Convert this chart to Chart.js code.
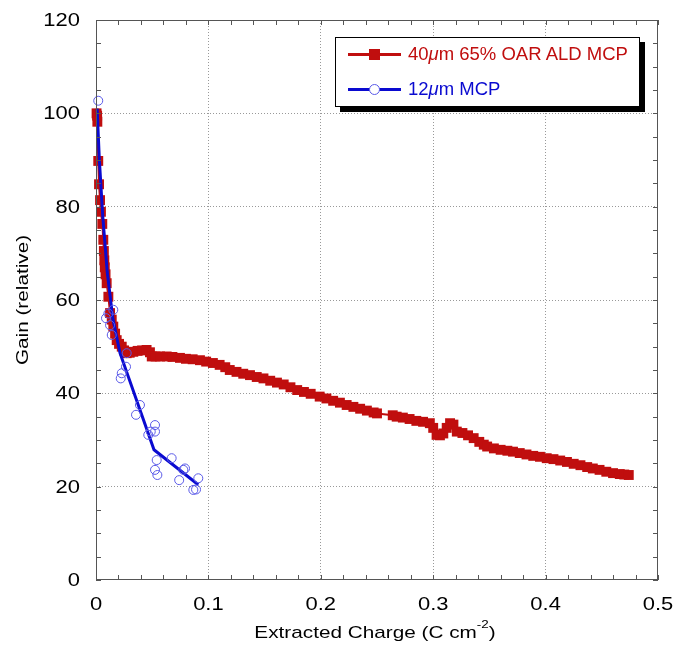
<!DOCTYPE html>
<html>
<head>
<meta charset="utf-8">
<script src="https://cdn.jsdelivr.net/npm/chart.js@4.4.0/dist/chart.umd.min.js"></script>
<style>
html, body { margin: 0; padding: 0; background: #fff; }
#wrap { position: relative; width: 673px; height: 652px; }
#legend {
    position: absolute; left: 335px; top: 37px; width: 303px; height: 68px;
    border: 1.5px solid #000; background: #fff; box-shadow: 5px 5px 0 #000;
    font-family: "Liberation Sans", Arial, sans-serif; font-size: 18.5px;
}
.row { position: absolute; left: 0; height: 22px; }
.sample { position: absolute; left: 12px; width: 53px; top: 10px; height: 3px; }
.mark { position: absolute; }
.txt { position: absolute; left: 72px; top: 0; white-space: nowrap; line-height: 22px; }
</style>
</head>
<body>
<div id="wrap">
    <canvas id="chart" width="673" height="652"></canvas>
    <div id="legend">
        <div class="row" style="top:5px">
            <div class="sample" style="background:#c00e0e"></div>
            <div class="mark" style="left:33px;top:6px;width:11px;height:11px;background:#c00e0e"></div>
            <div class="txt" style="color:#c00e0e">40<i>μ</i>m 65% OAR ALD MCP</div>
        </div>
        <div class="row" style="top:40px">
            <div class="sample" style="background:#0a0ad0"></div>
            <div class="mark" style="left:33px;top:6px;width:9px;height:9px;border:1px solid #5a5ae8;border-radius:50%;background:#fff"></div>
            <div class="txt" style="color:#0a0ad0">12<i>μ</i>m MCP</div>
        </div>
    </div>
</div>
<script>
// 40um 65% OAR ALD MCP (red squares)
const redX = [0.0005, 0.001, 0.0012, 0.002, 0.0027, 0.0036, 0.0044, 0.0056, 0.0065, 0.007,
    0.0074, 0.0078, 0.0085, 0.0095, 0.011, 0.0125, 0.014, 0.0154, 0.017, 0.0184,
    0.0205, 0.0229, 0.025, 0.0273, 0.030, 0.0332, 0.037, 0.041, 0.045, 0.048,
    0.0496, 0.053, 0.057, 0.0629, 0.068, 0.0747, 0.080, 0.086, 0.0925, 0.098,
    0.104, 0.110, 0.115, 0.119, 0.125, 0.131, 0.137, 0.143, 0.149, 0.155,
    0.161, 0.167, 0.173, 0.179, 0.185, 0.191, 0.199, 0.205, 0.211, 0.217,
    0.223, 0.229, 0.235, 0.241, 0.247, 0.250, 0.264, 0.2675, 0.273, 0.279,
    0.285, 0.291, 0.297, 0.300, 0.303, 0.306, 0.309, 0.312, 0.315, 0.318,
    0.321, 0.326, 0.331, 0.336, 0.341, 0.345, 0.348, 0.354, 0.360, 0.366,
    0.371, 0.377, 0.383, 0.389, 0.395, 0.401, 0.407, 0.413, 0.419, 0.425,
    0.431, 0.437, 0.442, 0.448, 0.454, 0.460, 0.466, 0.470, 0.474];
const redY = [100, 99.5, 98.2, 89.8, 84.8, 81.4, 78.9, 76.3, 72.9, 70.5,
    68.5, 67, 65.5, 63.6, 60.7, 57.2, 55.8, 54.3, 52.8, 51.4,
    50.6, 50, 49.2, 48.6, 48.7, 48.9, 49.1, 49.2, 49.3, 48.8,
    47.9, 47.9, 47.9, 47.9, 47.8, 47.6, 47.4, 47.3, 47.1, 46.8,
    46.5, 46.1, 45.6, 45.0, 44.6, 44.2, 43.9, 43.5, 43.2, 42.7,
    42.3, 41.9, 41.3, 40.7, 40.3, 39.9, 39.3, 38.9, 38.4, 38.0,
    37.5, 37.1, 36.7, 36.3, 35.9, 35.7, 35.3, 35.0, 34.8, 34.5,
    34.1, 33.9, 33.6, 32.6, 31.1, 31.0, 31.4, 32.6, 33.6, 33.3,
    31.8, 31.5, 31.0, 30.4, 29.6, 29.0, 28.6, 28.2, 27.9, 27.7,
    27.5, 27.2, 26.9, 26.6, 26.4, 26.1, 25.9, 25.6, 25.3, 24.9,
    24.6, 24.2, 23.9, 23.6, 23.2, 22.9, 22.7, 22.6, 22.5];

// 12um MCP (open blue circles)
const blueX = [0.002, 0.0089, 0.011, 0.0125, 0.014, 0.0154, 0.022, 0.0229, 0.0267, 0.0273,
    0.0356, 0.0391, 0.0465, 0.0487, 0.0525, 0.0525, 0.0525, 0.054, 0.0546, 0.0673,
    0.074, 0.0777, 0.0792, 0.0866, 0.089, 0.091];
const blueY = [102.7, 56.1, 57.1, 54.6, 52.5, 57.9, 43.2, 44.3, 45.7, 48.6,
    35.4, 37.5, 31.1, 31.8, 33.2, 31.8, 23.6, 25.7, 22.5, 26.1,
    21.4, 23.6, 23.9, 19.3, 19.4, 21.8];

// 12um MCP trend line
const fitX = [0.001, 0.003, 0.006, 0.010, 0.015, 0.0214, 0.0516, 0.091];
const fitY = [101, 90, 78, 66, 56, 48.6, 27.9, 20.4];

const xTicks = [0, 0.1, 0.2, 0.3, 0.4, 0.5];
const xTickLabels = ["0", "0.1", "0.2", "0.3", "0.4", "0.5"];
const yTicks = [0, 20, 40, 60, 80, 100, 120];
const yTickLabels = ["0", "20", "40", "60", "80", "100", "120"];

const FONT = "'Liberation Sans', Arial, sans-serif";
const STRETCH = 1.22; // axis text in the original is set wide
Chart.defaults.font.family = FONT;
Chart.defaults.color = "#000";

function pts(xs, ys) {
    return xs.map(function(x, i) { return { x: x, y: ys[i] }; });
}

// draws text widened along its own direction; align: 0 left, 0.5 centre, 1 right
function wideText(c, text, x, y, size, align) {
    c.save();
    c.font = size + "px " + FONT;
    c.textAlign = "left";
    c.textBaseline = "middle";
    const w = c.measureText(text).width * STRETCH;
    c.translate(x - w * align, y);
    c.scale(STRETCH, 1);
    c.fillText(text, 0, 0);
    c.restore();
    return w;
}

const framePlugin = {
    id: "frame",
    afterDraw: function(chart) {
        const c = chart.ctx;
        const a = chart.chartArea;
        const xs = chart.scales.x;
        const ys = chart.scales.y;
        c.save();
        c.strokeStyle = "#555";
        c.lineWidth = 1;
        c.strokeRect(a.left + 0.5, a.top + 0.5, a.right - a.left - 1, a.bottom - a.top - 1);
        c.beginPath();
        for (let i = 0; i <= 25; i++) {
            const px = Math.round(xs.getPixelForValue(i * 0.02)) + 0.5;
            c.moveTo(px, a.bottom); c.lineTo(px, a.bottom - 5);
            c.moveTo(px, a.top); c.lineTo(px, a.top + 5);
        }
        for (let j = 0; j <= 24; j++) {
            const py = Math.round(ys.getPixelForValue(j * 5)) + 0.5;
            c.moveTo(a.left, py); c.lineTo(a.left + 5, py);
            c.moveTo(a.right, py); c.lineTo(a.right - 5, py);
        }
        c.stroke();

        c.fillStyle = "#000";
        // tick labels
        xTicks.forEach(function(v, i) {
            wideText(c, xTickLabels[i], xs.getPixelForValue(v), a.bottom + 25, 18, 0.5);
        });
        yTicks.forEach(function(v, i) {
            wideText(c, yTickLabels[i], a.left - 16, ys.getPixelForValue(v) + 1, 18, 1);
        });

        // x title with superscript
        c.font = "17px " + FONT;
        const main = "Extracted Charge (C cm";
        const w1 = c.measureText(main).width * STRETCH;
        c.font = "11px " + FONT;
        const w2 = c.measureText("-2").width * STRETCH;
        c.font = "17px " + FONT;
        const w3 = c.measureText(")").width * STRETCH;
        const x0 = 375 - (w1 + w2 + w3) / 2;
        const ty = 633;
        wideText(c, main, x0, ty, 17, 0);
        wideText(c, "-2", x0 + w1, ty - 8, 11, 0);
        wideText(c, ")", x0 + w1 + w2, ty, 17, 0);

        // y title
        c.save();
        c.translate(23, (a.top + a.bottom) / 2);
        c.rotate(-Math.PI / 2);
        wideText(c, "Gain (relative)", 0, 0, 17, 0.5);
        c.restore();
        c.restore();
    }
};

new Chart(document.getElementById("chart").getContext("2d"), {
    type: "scatter",
    data: {
        datasets: [
            {
                label: "12um MCP points",
                data: pts(blueX, blueY),
                showLine: false,
                pointStyle: "circle",
                pointRadius: 4.5,
                pointBorderWidth: 1,
                pointBorderColor: "#5a5ae8",
                pointBackgroundColor: "rgba(0,0,0,0)",
                order: 0,
                clip: 10
            },
            {
                label: "12um MCP",
                data: pts(fitX, fitY),
                showLine: true,
                borderColor: "#0a0ad0",
                borderWidth: 3,
                pointRadius: 0,
                order: 1,
                clip: 10
            },
            {
                label: "40um 65% OAR ALD MCP",
                data: pts(redX, redY),
                showLine: true,
                borderColor: "#c00e0e",
                borderWidth: 2,
                pointStyle: "rect",
                pointRadius: 7,
                pointBorderWidth: 0,
                pointBackgroundColor: "#c00e0e",
                pointBorderColor: "#c00e0e",
                order: 2,
                clip: 10
            }
        ]
    },
    options: {
        responsive: false,
        animation: false,
        layout: { padding: { top: 20, right: 15, left: 0, bottom: 0 } },
        plugins: { legend: { display: false }, tooltip: { enabled: false } },
        scales: {
            x: {
                type: "linear",
                min: 0, max: 0.5,
                afterBuildTicks: function(s) { s.ticks = xTicks.map(function(v) { return { value: v }; }); },
                ticks: { display: false },
                grid: {
                    drawTicks: false,
                    color: function(ctx) { return (ctx.tick && (ctx.tick.value === 0 || ctx.tick.value === 0.5)) ? "rgba(0,0,0,0)" : "#999"; },
                    lineWidth: 1
                },
                border: { display: false, dash: [1, 2] },
                afterFit: function(s) { s.height = 72; s.paddingLeft = 0; s.paddingRight = 0; }
            },
            y: {
                type: "linear",
                min: 0, max: 120,
                afterBuildTicks: function(s) { s.ticks = yTicks.map(function(v) { return { value: v }; }); },
                ticks: { display: false },
                grid: {
                    drawTicks: false,
                    color: function(ctx) { return (ctx.tick && (ctx.tick.value === 0 || ctx.tick.value === 120)) ? "rgba(0,0,0,0)" : "#999"; },
                    lineWidth: 1
                },
                border: { display: false, dash: [1, 2] },
                afterFit: function(s) { s.width = 96; s.paddingTop = 0; s.paddingBottom = 0; }
            }
        }
    },
    plugins: [framePlugin]
});
</script>
</body>
</html>
